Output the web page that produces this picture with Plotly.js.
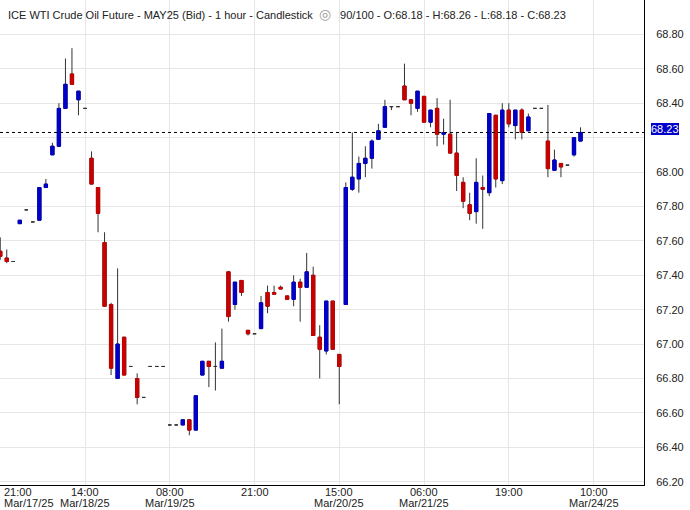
<!DOCTYPE html>
<html>
<head>
<meta charset="utf-8">
<script src="https://cdn.plot.ly/plotly-3.0.1.min.js"></script>
<style>html,body{margin:0;padding:0;background:#fff;}#chart{width:690px;height:510px;}</style>
</head>
<body>
<div id="chart"></div>
<script>
// ---- Data (1-hour bars) ----
const firstBar = -3;
const opens  = [67.54,67.50,67.48,67.70,67.78,67.71,67.72,67.91,68.10,68.15,68.37,68.57,68.42,68.37,68.08,67.91,67.59,67.23,66.80,67.04,66.87,66.80,66.69,66.87,66.87,66.87,66.53,66.53,66.53,66.56,66.50,66.82,66.90,66.87,66.86,67.42,67.23,67.37,67.08,67.06,67.09,67.30,67.30,67.33,67.28,67.26,67.36,67.33,67.40,67.04,66.96,67.25,66.94,67.23,67.90,67.96,68.05,68.08,68.19,68.26,68.38,68.38,68.50,68.42,68.37,68.44,68.29,68.37,68.22,68.22,68.11,67.94,67.81,67.77,67.91,67.88,68.33,67.95,68.36,68.27,68.36,68.24,68.37,68.37,68.18,68.01,68.05,68.04,68.10,68.18];
const highs  = [67.62,67.55,67.48,67.72,67.78,67.71,67.91,67.96,68.17,68.40,68.66,68.72,68.47,68.37,68.12,67.91,67.65,67.24,67.44,67.04,66.87,66.83,66.69,66.87,66.87,66.87,66.53,66.53,66.56,66.56,66.70,66.90,66.90,67.01,67.09,67.42,67.36,67.37,67.08,67.06,67.28,67.34,67.34,67.34,67.28,67.40,67.38,67.53,67.45,67.11,67.25,67.25,66.94,67.94,68.23,68.09,68.15,68.19,68.28,68.42,68.38,68.38,68.63,68.42,68.47,68.44,68.36,68.43,68.31,68.42,68.23,67.97,67.88,68.08,67.98,68.34,68.33,68.40,68.40,68.36,68.37,68.34,68.37,68.37,68.39,68.13,68.05,68.04,68.20,68.26];
const lows   = [67.49,67.47,67.48,67.70,67.78,67.71,67.72,67.91,68.10,68.15,68.37,68.51,68.33,68.37,67.93,67.65,67.22,66.82,66.80,66.82,66.87,66.65,66.69,66.87,66.87,66.87,66.53,66.53,66.53,66.47,66.50,66.82,66.75,66.73,66.86,67.13,67.20,67.28,67.05,67.06,67.09,67.18,67.29,67.32,67.26,67.22,67.13,67.33,67.05,66.80,66.94,66.97,66.65,67.23,67.89,67.88,67.97,68.02,68.19,68.26,68.36,68.38,68.42,68.33,68.35,68.29,68.26,68.15,68.16,68.11,67.89,67.79,67.72,67.70,67.67,67.86,67.91,67.93,68.26,68.19,68.19,68.24,68.37,68.37,67.97,68.01,67.97,68.04,68.09,68.18];
const closes = [67.51,67.48,67.48,67.72,67.78,67.71,67.91,67.93,68.15,68.37,68.51,68.51,68.47,68.37,67.93,67.76,67.22,66.86,67.00,66.82,66.87,66.69,66.69,66.87,66.87,66.87,66.53,66.53,66.56,66.50,66.70,66.90,66.87,66.87,66.90,67.16,67.36,67.30,67.06,67.06,67.24,67.22,67.29,67.32,67.26,67.36,67.33,67.42,67.05,66.97,67.25,66.97,66.87,67.91,67.97,68.05,68.08,68.18,68.24,68.38,68.38,68.38,68.42,68.40,68.47,68.29,68.36,68.22,68.23,68.11,67.98,67.83,67.76,67.94,67.90,68.34,67.96,68.36,68.28,68.36,68.23,68.32,68.37,68.37,68.02,68.07,68.03,68.04,68.20,68.23];

// x-axis tick labels (bar index of each tick)
const tickIdx   = [-3, 10, 23, 36, 49, 62, 75, 88];
const tickTime  = ['21:00','14:00','08:00','21:00','15:00','06:00','19:00','10:00'];
const tickDate  = ['Mar/17/25','Mar/18/25','Mar/19/25','','Mar/20/25','Mar/21/25','','Mar/24/25'];

// y-axis price ticks
const priceTicks = [66.2,66.4,66.6,66.8,67.0,67.2,67.4,67.6,67.8,68.0,68.2,68.4,68.6,68.8,69.0];

const titleText = 'ICE WTI Crude Oil Future - MAY25 (Bid) - 1 hour - Candlestick';
const barsShown = '90/100';

// ---- Derived ----
const xs = opens.map((_, i) => i + firstBar);
const n = opens.length;
const last = n - 1;
const isFlat = opens.map((o, i) => o === closes[i]);
const bOpen  = opens.map((o, i) => isFlat[i] ? null : o);
const bClose = closes.map((c, i) => isFlat[i] ? null : c);
const bHigh  = opens.map((o, i) => isFlat[i] ? null : Math.max(o, closes[i]));
const bLow   = opens.map((o, i) => isFlat[i] ? null : Math.min(o, closes[i]));

const BLUE = '#0000c8', RED = '#c80000', WICK = '#333333';
const FONT = '"Liberation Sans", Arial, sans-serif';

const wicks = {
  type: 'candlestick', x: xs, open: opens, high: highs, low: lows, close: closes,
  increasing: {line: {color: WICK, width: 1}, fillcolor: WICK},
  decreasing: {line: {color: WICK, width: 1}, fillcolor: WICK},
  hoverinfo: 'skip', showlegend: false
};
const bodies = {
  type: 'candlestick', x: xs, open: bOpen, high: bHigh, low: bLow, close: bClose,
  increasing: {line: {color: BLUE, width: 1}, fillcolor: BLUE},
  decreasing: {line: {color: RED, width: 1}, fillcolor: RED},
  hoverinfo: 'skip', showlegend: false
};

// plot geometry: 644px plot width, 6.52px per bar, bar 0 centered at 19.8px
const pxPerBar = 6.52, bar0px = 19.8, plotW = 644;
const xLeft = -bar0px / pxPerBar;
const xRight = xLeft + plotW / pxPerBar;

const plotH = 485;
const rowTimeY = (plotH - 492) / plotH;
const rowDateY = (plotH - 502.5) / plotH;

const f2 = v => v.toFixed(2);
const lastClose = closes[last];
// the price tag covers the tick label nearest to the last close
const coveredTick = priceTicks.reduce((a, b) => Math.abs(b - lastClose) < Math.abs(a - lastClose) ? b : a);
const priceText = priceTicks.map(v => v === coveredTick ? '' : f2(v));

const annotations = [];
tickIdx.forEach((k, j) => {
  const first = k < xLeft + 1;
  const common = {
    xref: 'x', x: k, yref: 'paper', yanchor: 'middle', showarrow: false,
    xanchor: first ? 'left' : 'center', xshift: first ? 2 : 0,
    font: {family: FONT, size: 11, color: '#222'}
  };
  annotations.push(Object.assign({}, common, {y: rowTimeY, text: tickTime[j]}));
  if (tickDate[j]) annotations.push(Object.assign({}, common, {y: rowDateY, text: tickDate[j]}));
});

annotations.push({
  xref: 'paper', x: 0, xanchor: 'left', xshift: 6,
  yref: 'paper', y: 1 - 14 / plotH, yanchor: 'middle', showarrow: false,
  text: titleText + ' &nbsp;<span style="color:#999;font-size:14px">◎</span>&nbsp;&nbsp; ' + barsShown +
        ' - O:' + f2(opens[last]) + ' - H:' + f2(highs[last]) +
        ' - L:' + f2(lows[last]) + ' - C:' + f2(closes[last]),
  font: {family: FONT, size: 11, color: '#222'}
});
annotations.push({
  xref: 'paper', x: 1, xanchor: 'left', xshift: 7,
  yref: 'y', y: lastClose, yanchor: 'middle', yshift: 3, showarrow: false,
  text: f2(lastClose), bgcolor: '#0000cc', borderpad: 0, borderwidth: 0,
  font: {family: FONT, size: 11, color: '#fff'}
});

const layout = {
  width: 690, height: 510,
  margin: {l: 0, r: 46, t: 0, b: 25, pad: 0},
  paper_bgcolor: '#fff', plot_bgcolor: '#fff',
  showlegend: false, boxgap: 0.28,
  font: {family: FONT, size: 11, color: '#222'},
  xaxis: {
    range: [xLeft, xRight], rangeslider: {visible: false},
    tickmode: 'array', tickvals: tickIdx, showticklabels: false, ticks: '',
    showgrid: true, gridcolor: '#e6e6e6', gridwidth: 1,
    showline: true, linecolor: '#000', linewidth: 1, zeroline: false, fixedrange: true
  },
  yaxis: {
    side: 'right', range: [66.181, 69.0],
    tickmode: 'array', tickvals: priceTicks, ticktext: priceText,
    ticks: '', ticklabelstandoff: 9,
    tickfont: {family: FONT, size: 11, color: '#222'},
    showgrid: true, gridcolor: '#e6e6e6', gridwidth: 1,
    showline: true, linecolor: '#000', linewidth: 1, zeroline: false, fixedrange: true
  },
  shapes: [{
    type: 'line', xref: 'paper', x0: 0, x1: 1, yref: 'y', y0: lastClose, y1: lastClose,
    line: {color: '#000', width: 1, dash: '3px,3px'}
  }],
  annotations: annotations
};

Plotly.newPlot('chart', [wicks, bodies], layout, {displayModeBar: false, staticPlot: true});
</script>
</body>
</html>
